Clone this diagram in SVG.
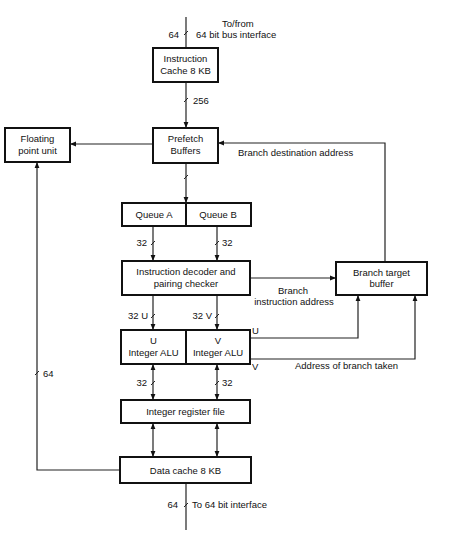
<svg xmlns="http://www.w3.org/2000/svg" width="450" height="534" viewBox="0 0 450 534">
<style>
.box{fill:#fff;stroke:#111;stroke-width:2}
.ln{fill:none;stroke:#222;stroke-width:1.2}
.sl{stroke:#222;stroke-width:1}
text{font-family:"Liberation Sans",Arial,sans-serif;font-size:9.5px;fill:#111}
.m{text-anchor:middle}
.e{text-anchor:end}
</style>
<defs>
<marker id="ah" viewBox="0 0 10 10" refX="10" refY="5" markerWidth="6" markerHeight="6" orient="auto-start-reverse" markerUnits="userSpaceOnUse">
<path d="M0,1 L10,5 L0,9 z" fill="#111"/>
</marker>
</defs>
<rect width="450" height="534" fill="#fff"/>
<g id="connectors">
<line class="ln" x1="186" y1="17" x2="186" y2="48"/>
<line class="sl" x1="184" y1="35" x2="188" y2="31"/>
<text class="e" x="179" y="38">64</text>
<text x="222" y="27">To/from</text>
<text x="196" y="38">64 bit bus interface</text>
<line class="ln" x1="186" y1="82" x2="186" y2="128" marker-end="url(#ah)"/>
<line class="sl" x1="184" y1="102" x2="188" y2="98"/>
<text x="193" y="104">256</text>
<line class="ln" x1="153" y1="144" x2="70" y2="144" marker-end="url(#ah)"/>
<polyline class="ln" points="385,262 385,143 218,143" marker-end="url(#ah)"/>
<text x="238" y="156">Branch destination address</text>
<line class="ln" x1="186" y1="163" x2="186" y2="203" marker-end="url(#ah)"/>
<line class="sl" x1="184" y1="179" x2="188" y2="175"/>
<line class="ln" x1="153" y1="226" x2="153" y2="261" marker-end="url(#ah)"/>
<line class="ln" x1="217" y1="226" x2="217" y2="261" marker-end="url(#ah)"/>
<line class="sl" x1="151" y1="245" x2="155" y2="241"/>
<line class="sl" x1="215" y1="245" x2="219" y2="241"/>
<text class="e" x="147" y="246">32</text>
<text x="222" y="246">32</text>
<line class="ln" x1="250" y1="278" x2="336" y2="278" marker-end="url(#ah)"/>
<text class="m" x="293" y="294">Branch</text>
<text class="m" x="294" y="305">instruction address</text>
<line class="ln" x1="153" y1="295" x2="153" y2="330" marker-end="url(#ah)"/>
<line class="ln" x1="217" y1="295" x2="217" y2="330" marker-end="url(#ah)"/>
<line class="sl" x1="151" y1="318" x2="155" y2="314"/>
<line class="sl" x1="215" y1="318" x2="219" y2="314"/>
<text class="e" x="148" y="319">32 U</text>
<text class="e" x="212" y="319">32 V</text>
<polyline class="ln" points="250,338 358,338 358,295" marker-end="url(#ah)"/>
<polyline class="ln" points="250,359 415,359 415,295" marker-end="url(#ah)"/>
<text x="252" y="334">U</text>
<text x="252" y="370">V</text>
<text x="295" y="369">Address of branch taken</text>
<line class="ln" x1="153" y1="364" x2="153" y2="400" marker-start="url(#ah)" marker-end="url(#ah)"/>
<line class="ln" x1="217" y1="364" x2="217" y2="400" marker-start="url(#ah)" marker-end="url(#ah)"/>
<line class="sl" x1="151" y1="385" x2="155" y2="381"/>
<line class="sl" x1="215" y1="385" x2="219" y2="381"/>
<text class="e" x="147" y="386">32</text>
<text x="222" y="386">32</text>
<line class="ln" x1="153" y1="423" x2="153" y2="457" marker-start="url(#ah)" marker-end="url(#ah)"/>
<line class="ln" x1="217" y1="423" x2="217" y2="457" marker-start="url(#ah)" marker-end="url(#ah)"/>
<polyline class="ln" points="120,470 37,470 37,162" marker-end="url(#ah)"/>
<line class="sl" x1="35" y1="375" x2="39" y2="371"/>
<text x="43" y="377">64</text>
<line class="ln" x1="186" y1="483" x2="186" y2="530"/>
<line class="sl" x1="184" y1="507" x2="188" y2="503"/>
<text class="e" x="178" y="508">64</text>
<text x="192" y="508">To 64 bit interface</text>
</g>
<g id="icache">
<rect class="box" x="153" y="48" width="65" height="34"/>
<text class="m" x="185.5" y="62">Instruction</text>
<text class="m" x="185.5" y="74">Cache 8 KB</text>
</g>
<g id="fpu">
<rect class="box" x="5" y="128" width="65" height="34"/>
<text class="m" x="37.5" y="142">Floating</text>
<text class="m" x="37.5" y="154">point unit</text>
</g>
<g id="prefetch">
<rect class="box" x="153" y="128" width="65" height="35"/>
<text class="m" x="185.5" y="142">Prefetch</text>
<text class="m" x="185.5" y="154">Buffers</text>
</g>
<g id="queue">
<rect class="box" x="122" y="203" width="129" height="23"/>
<line class="box" x1="186" y1="203" x2="186" y2="226"/>
<text class="m" x="154" y="218">Queue A</text>
<text class="m" x="218" y="218">Queue B</text>
</g>
<g id="decoder">
<rect class="box" x="122" y="261" width="128" height="34"/>
<text class="m" x="186" y="275">Instruction decoder and</text>
<text class="m" x="186" y="287">pairing checker</text>
</g>
<g id="btb">
<rect class="box" x="336" y="262" width="91" height="33"/>
<text class="m" x="381.5" y="276">Branch target</text>
<text class="m" x="381.5" y="287">buffer</text>
</g>
<g id="alu">
<rect class="box" x="121" y="330" width="129" height="34"/>
<line class="box" x1="186" y1="330" x2="186" y2="364"/>
<text class="m" x="153.5" y="344">U</text>
<text class="m" x="153.5" y="356">Integer ALU</text>
<text class="m" x="218" y="344">V</text>
<text class="m" x="218" y="356">Integer ALU</text>
</g>
<g id="regfile">
<rect class="box" x="121" y="400" width="129" height="23"/>
<text class="m" x="185.5" y="415">Integer register file</text>
</g>
<g id="dcache">
<rect class="box" x="120" y="457" width="131" height="26"/>
<text class="m" x="185.5" y="474">Data cache 8 KB</text>
</g>
</svg>
